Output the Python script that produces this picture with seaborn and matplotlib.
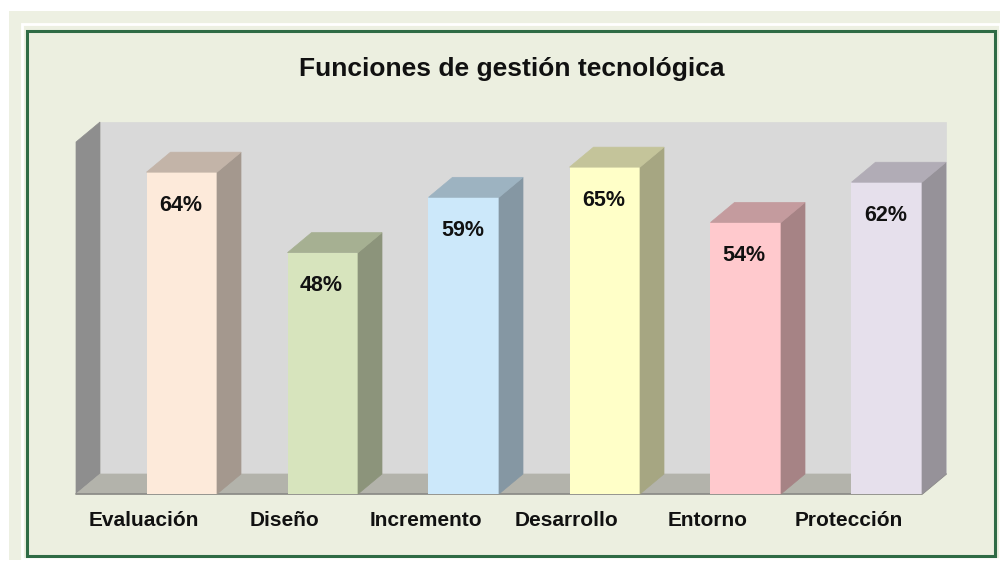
import matplotlib.pyplot as plt
import matplotlib.patches as mpatches
import matplotlib.transforms as mtransforms
import seaborn as sns
import numpy as np
import pandas as pd

categorias = ['Evaluación', 'Diseño', 'Incremento', 'Desarrollo', 'Entorno', 'Protección']
valores = [64, 48, 59, 65, 54, 62]
etiquetas = ['64%', '48%', '59%', '65%', '54%', '62%']
colores = ['#FDEADA', '#D7E4BD', '#CCE8FA', '#FFFFC8', '#FFC9CD', '#E6E0EC']
titulo = 'Funciones de gestión tecnológica'

sns.set_theme(style="white")
plt.rcParams['font.family'] = ['Liberation Sans', 'DejaVu Sans']

fig = plt.figure(figsize=(10, 5.69), dpi=100, facecolor='white')

# marco exterior
fig.patches.append(mpatches.Rectangle((9/1000, 9/569), 991/1000, 549/569, transform=fig.transFigure,
                                      facecolor='#EDF0E2', edgecolor='none', zorder=-3))
fig.patches.append(mpatches.Rectangle((22/1000, 10/569), 978/1000, 535/569, transform=fig.transFigure,
                                      facecolor='none', edgecolor='white', linewidth=2, zorder=-2.5))
fig.patches.append(mpatches.Rectangle((27/1000, 13/569), 968/1000, 525/569, transform=fig.transFigure,
                                      facecolor='#ECEFE0', edgecolor='#2F6B45', linewidth=2.2, zorder=-2))

ax = fig.add_axes([0.076, 75/569, 0.846, 352/569])
ax.set_facecolor('none')

df = pd.DataFrame({'Funcion': categorias, 'Valor': valores})
sns.barplot(data=df, x='Funcion', y='Valor', hue='Funcion', palette=colores, legend=False,
            width=0.5, saturation=1, ax=ax, zorder=3)

x0, x1 = -0.75, 5.25
ytop = 70
ax.set_xlim(x0, x1)
ax.set_ylim(0, ytop)

# profundidad 3D: 24 px a la derecha, 20 px hacia arriba
p0 = ax.transData.transform((0, 0))
dx, dy = ax.transData.inverted().transform(p0 + np.array([24, 20]))

def poly(pts, color, z):
    ax.add_patch(mpatches.Polygon(pts, closed=True, facecolor=color, edgecolor=color,
                                  linewidth=0.5, clip_on=False, zorder=z))

# paredes y suelo
poly([(x0 + dx, dy), (x1 + dx, dy), (x1 + dx, ytop + dy), (x0 + dx, ytop + dy)], '#D9D9D9', 0)
poly([(x0, 0), (x0, ytop), (x0 + dx, ytop + dy), (x0 + dx, dy)], '#8E8E8E', 1)
poly([(x0, 0), (x1, 0), (x1 + dx, dy), (x0 + dx, dy)], '#B3B3AB', 1)
ax.plot([x0, x1, x1 + dx], [0, 0, dy], color='#8A8A86', linewidth=1.2, clip_on=False, zorder=1.5)

def tono(c, f):
    r, g, b = plt.matplotlib.colors.to_rgb(c)
    return (r * f, g * f, b * f)

for bar, c, lab in zip(ax.patches, colores, etiquetas):
    bx = bar.get_x()
    bw = bar.get_width()
    h = bar.get_height()
    bar.set_edgecolor('none')
    poly([(bx + bw, 0), (bx + bw, h), (bx + bw + dx, h + dy), (bx + bw + dx, dy)], tono(c, 0.65), 3)
    poly([(bx, h), (bx + bw, h), (bx + bw + dx, h + dy), (bx + dx, h + dy)], tono(c, 0.77), 3)
    ax.annotate(lab, xy=(bx + bw / 2, h), xytext=(-1, -24), textcoords='offset points',
                ha='center', va='center', fontsize=15.5, fontweight='bold', color='#111111', zorder=5)

ax.set_xlabel('')
ax.set_ylabel('')
ax.set_yticks([])
ax.tick_params(axis='x', length=0, pad=12, labelsize=15)
for lbl in ax.get_xticklabels():
    lbl.set_fontweight('bold')
    lbl.set_color('#111111')
    lbl.set_transform(lbl.get_transform() + mtransforms.ScaledTranslation(-38/100, 0, fig.dpi_scale_trans))
for s in ax.spines.values():
    s.set_visible(False)

fig.text(512/1000, 1 - 76/569, titulo, ha='center', va='baseline', fontsize=19,
         fontweight='bold', color='#111111')

fig.savefig('out.png', dpi=100, facecolor=fig.get_facecolor())
